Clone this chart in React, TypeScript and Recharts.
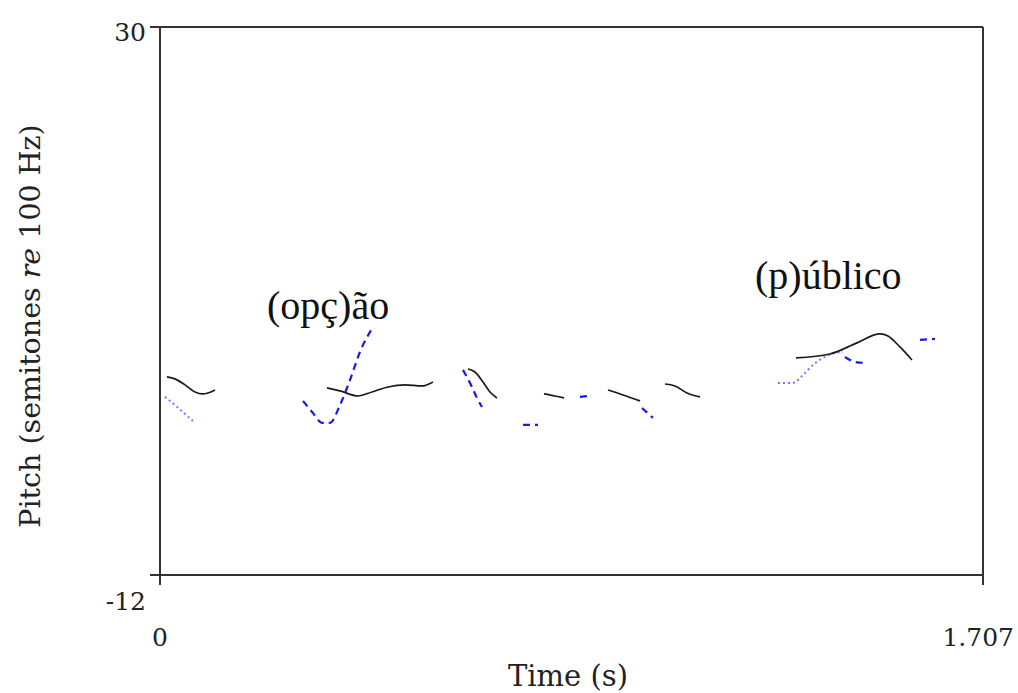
import { Line, LineChart, XAxis, YAxis } from "recharts";

// time (s) / pitch (semitones re 100 Hz)
const black1 = [
  { t: 0.0145, v: 3.18 }, { t: 0.0311, v: 3.03 }, { t: 0.0519, v: 2.57 },
  { t: 0.0726, v: 2.03 }, { t: 0.0871, v: 1.88 }, { t: 0.0996, v: 1.95 },
  { t: 0.1141, v: 2.18 },
];
const black2 = [
  { t: 0.3464, v: 2.34 }, { t: 0.3733, v: 2.11 }, { t: 0.4107, v: 1.72 },
  { t: 0.4397, v: 2.03 }, { t: 0.4729, v: 2.41 }, { t: 0.5081, v: 2.57 },
  { t: 0.5434, v: 2.49 }, { t: 0.5662, v: 2.8 },
];
const black3 = [
  { t: 0.6388, v: 3.79 }, { t: 0.6533, v: 3.56 }, { t: 0.6699, v: 2.8 },
  { t: 0.6844, v: 2.03 }, { t: 0.6989, v: 1.57 },
];
const black4 = [{ t: 0.7964, v: 1.88 }, { t: 0.8192, v: 1.72 }, { t: 0.8379, v: 1.57 }];
const black5 = [{ t: 0.9292, v: 2.18 }, { t: 0.9603, v: 1.8 }, { t: 0.9955, v: 1.34 }];
const black6 = [
  { t: 1.0474, v: 2.64 }, { t: 1.0681, v: 2.49 }, { t: 1.093, v: 1.95 }, { t: 1.12, v: 1.65 },
];
const black7 = [
  { t: 1.3191, v: 4.64 }, { t: 1.3896, v: 4.94 }, { t: 1.4456, v: 5.79 },
  { t: 1.4933, v: 6.48 }, { t: 1.5099, v: 6.32 }, { t: 1.5348, v: 5.48 },
  { t: 1.5597, v: 4.48 },
];

const blue1 = [
  { t: 0.2966, v: 1.34 }, { t: 0.3173, v: 0.42 }, { t: 0.336, v: -0.34 },
  { t: 0.3526, v: -0.34 }, { t: 0.3733, v: 1.03 }, { t: 0.3941, v: 2.95 },
  { t: 0.4148, v: 5.1 }, { t: 0.4418, v: 7.01 },
];
const blue2 = [
  { t: 0.6284, v: 3.72 }, { t: 0.6471, v: 2.41 }, { t: 0.6575, v: 1.57 }, { t: 0.6678, v: 0.88 },
];
const blue3 = [{ t: 0.7529, v: -0.5 }, { t: 0.784, v: -0.5 }];
const blue4 = [{ t: 0.8711, v: 1.65 }, { t: 0.8897, v: 1.72 }];
const blue5 = [{ t: 0.9997, v: 0.8 }, { t: 1.0225, v: 0.04 }];
const blue6 = [{ t: 1.4207, v: 4.71 }, { t: 1.4414, v: 4.33 }, { t: 1.4663, v: 4.25 }];
const blue7 = [{ t: 1.5763, v: 6.02 }, { t: 1.6074, v: 6.09 }];

const dotted1 = [
  { t: 0.0104, v: 1.65 }, { t: 0.0311, v: 1.03 }, { t: 0.0519, v: 0.34 }, { t: 0.0726, v: -0.34 },
];
const dotted2 = [
  { t: 1.2817, v: 2.72 }, { t: 1.3128, v: 2.72 }, { t: 1.3336, v: 3.33 },
  { t: 1.3543, v: 4.1 }, { t: 1.3792, v: 4.71 }, { t: 1.4, v: 5.02 }, { t: 1.4166, v: 5.1 },
];

const blackSegs = [black1, black2, black3, black4, black5, black6, black7];
const blueSegs = [blue1, blue2, blue3, blue4, blue5, blue6, blue7];
const dottedSegs = [dotted1, dotted2];

const xTicks = [0, 1.707];
const yTicks = [-12, 30];

const numFont = "'DejaVu Serif', serif";
const axisStroke = "#333";

function XTick({ x, y, payload }: any) {
  // last label sits flush with the right edge, like the original
  const last = payload.value === 1.707;
  return (
    <text
      x={last ? 1014 : x}
      y={y + 59}
      textAnchor={last ? "end" : "middle"}
      fontFamily={numFont}
      fontSize={25}
      fill="#222"
    >
      {payload.value}
    </text>
  );
}

function YTick({ x, y, payload }: any) {
  const dy = payload.value === -12 ? 35 : 14;
  return (
    <text x={x - 2} y={y + dy} textAnchor="end" fontFamily={numFont} fontSize={25} fill="#222">
      {payload.value}
    </text>
  );
}

export default function App() {
  return (
    <div style={{ position: "absolute", left: 0, top: 0, width: 1018, height: 693, background: "#fff" }}>
      <LineChart width={1018} height={693} margin={{ top: 26, right: 34, bottom: 88, left: 130 }}>
        <XAxis
          type="number"
          dataKey="t"
          domain={[0, 1.707]}
          ticks={xTicks}
          height={30}
          tickSize={10}
          tick={<XTick />}
          stroke={axisStroke}
          strokeWidth={2}
        />
        <XAxis xAxisId="top" orientation="top" type="number" dataKey="t" domain={[0, 1.707]} height={1} tick={false} tickLine={false} stroke={axisStroke} strokeWidth={2} />
        <YAxis
          type="number"
          domain={[-12, 30]}
          ticks={yTicks}
          width={30}
          tickSize={10}
          tick={<YTick />}
          stroke={axisStroke}
          strokeWidth={2}
        />
        <YAxis yAxisId="right" orientation="right" type="number" domain={[-12, 30]} width={1} tick={false} tickLine={false} stroke={axisStroke} strokeWidth={2} />
        {dottedSegs.map((d, i) => (
          <Line key={"d" + i} data={d} dataKey="v" type="monotone" stroke="#7878ff" strokeWidth={2} strokeDasharray="2 3" dot={false} isAnimationActive={false} />
        ))}
        {blackSegs.map((d, i) => (
          <Line key={"k" + i} data={d} dataKey="v" type="monotone" stroke="#1a1a1a" strokeWidth={1.7} dot={false} isAnimationActive={false} />
        ))}
        {blueSegs.map((d, i) => (
          <Line key={"b" + i} data={d} dataKey="v" type="monotone" stroke="#1a1ae6" strokeWidth={2.2} strokeDasharray="7 5" dot={false} isAnimationActive={false} />
        ))}
      </LineChart>
      <svg width={1018} height={693} style={{ position: "absolute", left: 0, top: 0, pointerEvents: "none" }}>
        <text x={568} y={686} textAnchor="middle" fontFamily={numFont} fontSize={29} fill="#222">
          Time (s)
        </text>
        <text x={40} y={326} textAnchor="middle" transform="rotate(-90 40 326)" fontFamily={numFont} fontSize={28.5} fill="#222">
          Pitch (semitones <tspan fontStyle="italic">re</tspan> 100 Hz)
        </text>
        <text x={267} y={319} fontFamily="'Liberation Serif', serif" fontSize={40} fill="#111">
          (opç)ão
        </text>
        <text x={755} y={289} fontFamily="'Liberation Serif', serif" fontSize={40} fill="#111">
          (p)úblico
        </text>
      </svg>
    </div>
  );
}
